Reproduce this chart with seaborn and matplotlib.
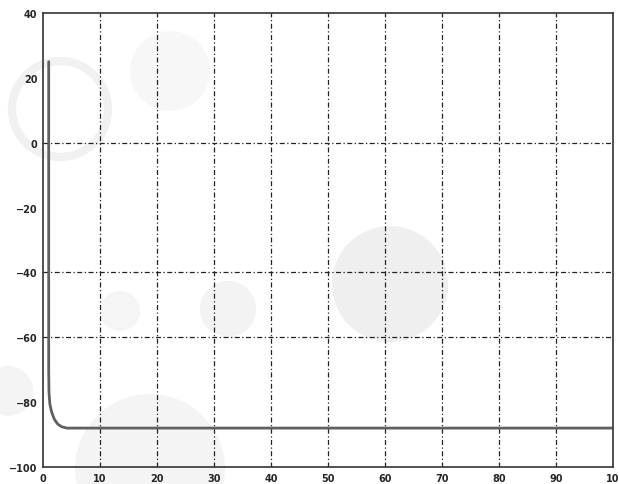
import numpy as np
import pandas as pd
import matplotlib
matplotlib.use("Agg")
import matplotlib.pyplot as plt
import seaborn as sns
from matplotlib.patches import Circle

# Curve (x, y)
curve_x = [1.0, 1.0, 1.0, 1.05, 1.2, 1.5, 2.0, 2.6, 3.3, 4.2, 5.2, 100.0]
curve_y = [25.0, 0.0, -70.0, -77.0, -80.5, -83.0, -85.3, -86.8, -87.6, -88.0, -88.0, -88.0]

x_ticks = [0, 10, 20, 30, 40, 50, 60, 70, 80, 90, 100]
x_labels = ["0", "10", "20", "30", "40", "50", "60", "70", "80", "90", "10"]
y_ticks = [-100, -80, -60, -40, -20, 0, 20, 40]
y_grid = [0, -40, -60]

df = pd.DataFrame({"x": curve_x, "y": curve_y})

sns.set_style("white")
fig = plt.figure(figsize=(6.19, 4.85), dpi=100)

# faint watermark circles in the background
bg = fig.add_axes([0, 0, 1, 1], zorder=0)
bg.set_xlim(0, 619)
bg.set_ylim(485, 0)
bg.axis("off")
for cx, cy, r, c in [(390, 285, 58, "#efefef"), (170, 72, 40, "#f7f7f7"),
                     (150, 470, 75, "#f4f4f4"), (120, 312, 20, "#f5f5f5"),
                     (228, 310, 28, "#f3f3f3"), (8, 392, 25, "#f4f4f4")]:
    bg.add_patch(Circle((cx, cy), r, color=c, lw=0))
bg.add_patch(Circle((60, 110), 48, fill=False, ec="#f1f1f1", lw=6))

ax = fig.add_axes([43 / 619, 17 / 485, 570 / 619, 454 / 485], zorder=1)
ax.patch.set_alpha(0)

sns.lineplot(data=df, x="x", y="y", ax=ax, color="#606060", lw=2.0,
             sort=False, estimator=None)

for xv in x_ticks[1:-1]:
    ax.axvline(xv, color="#222222", lw=0.9, ls=(0, (4, 2, 1, 2)), zorder=0)
for yv in y_grid:
    ax.axhline(yv, color="#222222", lw=0.9, ls=(0, (4, 2, 1, 2)), zorder=0)

ax.set_xlim(0, 100)
ax.set_ylim(-100, 40)
ax.set_xticks(x_ticks)
ax.set_xticklabels(x_labels)
ax.set_yticks(y_ticks)
ax.set_xlabel("")
ax.set_ylabel("")
ax.tick_params(labelsize=7, length=0, pad=4)
for lab in ax.get_xticklabels() + ax.get_yticklabels():
    lab.set_fontweight("bold")
for s in ax.spines.values():
    s.set_color("#333333")
    s.set_linewidth(1.2)

fig.savefig("out.png", dpi=100)
